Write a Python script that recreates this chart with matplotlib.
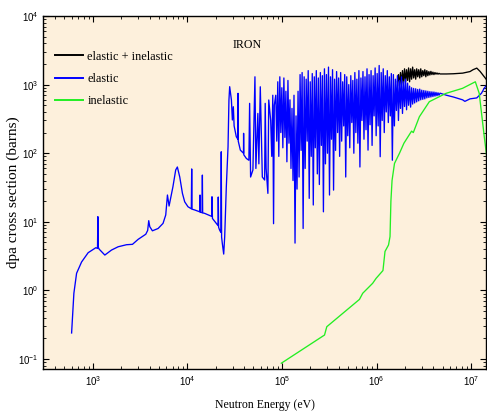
import numpy as np
import matplotlib
matplotlib.use('Agg')
import matplotlib.pyplot as plt

plt.rcParams['font.family'] = 'Liberation Serif'
plt.rcParams['mathtext.default'] = 'regular'

# Elastic (blue) - low energy part [eV], [barns]
elastic_low_e = [596, 630, 673, 760, 892, 1076, 1120, 1130, 1138, 1166,
                 1339, 1575, 1850, 2270, 2624, 3010, 3630, 3800, 3900, 4000,
                 4265, 4900, 5525, 5900, 6150, 6400, 7030, 7520, 7830, 8300,
                 8860, 9360, 10140, 11000, 11100, 11200, 11940, 13500, 13600,
                 13700, 14300, 14400, 14500, 15200, 18100, 18200, 18400,
                 20200, 21100, 21200, 21400, 21900, 22600, 22800, 23000,
                 23400, 24200, 24800, 25800, 26900, 27500, 28000, 29200,
                 29900, 30600, 31200, 32900, 34200, 34300, 34500, 36300,
                 39200, 39300, 39500, 42000, 44700, 45500, 46600, 49300,
                 51800, 53000, 55600, 57000, 59000, 62000, 65600, 66500,
                 68000, 71000, 72500, 76000, 78000, 80000, 81500, 83000]
elastic_low_xs = [0.24, 0.91, 1.78, 2.6, 3.55, 4.2, 4.1, 11.9, 4.3, 4.0,
                  3.28, 3.88, 4.33, 4.64, 4.7, 5.55, 6.6, 7.5, 10.4, 8.5,
                  7.4, 8.0, 9.5, 12.6, 24.6, 17, 32.5, 57, 63, 45,
                  26, 19.6, 16.6, 15.5, 59, 15.3, 14.9, 14, 24.6,
                  13.8, 13.6, 48, 13.5, 13.3, 12, 23.2, 11.2,
                  9.5, 8.8, 23, 8.3, 7.6, 7, 105, 6,
                  4.86, 3.39, 6.1, 32.5, 124, 597, 933, 597,
                  305, 476, 250, 174, 160, 746, 150, 111,
                  100, 195, 95, 84, 79, 533, 45, 57,
                  1300, 60, 380, 70, 930, 45, 40.7, 533,
                  60, 26, 597, 300, 90, 700, 9.4, 500]

# Elastic - resolved resonance region (dense spikes)
elastic_res_e = [86000, 88150, 90350, 92610, 94930, 97300, 99730, 102200, 104800, 107400,
                 110100, 112800, 115700, 118600, 121500, 124600, 127700, 130900, 134100, 137500,
                 140900, 144400, 148000, 151800, 155500, 159400, 163400, 167500, 171700, 176000,
                 180400, 184900, 189500, 194300, 199100, 204100, 209200, 214500, 219800, 225300,
                 230900, 236700, 242600, 248700, 254900, 261300, 267800, 274500, 281400, 288400,
                 295600, 303000, 310600, 318300, 326300, 334400, 342800, 351400, 360200, 369200,
                 378400, 387800, 397500, 407500, 417700, 428100, 438800, 449800, 461000, 472600,
                 484400, 496500, 508900, 521600, 534700, 548000, 561700, 575800, 590200, 604900,
                 620000, 635500, 651400, 667700, 684400, 701500, 719100, 737000, 755500, 774400,
                 793700, 813500, 833900, 854700, 876100, 898000, 920400, 943500, 967100, 991200,
                 1016000, 1041000, 1067000, 1094000, 1121000, 1149000, 1178000, 1208000, 1238000, 1269000,
                 1301000, 1333000, 1366000, 1400000, 1435000, 1471000, 1508000, 1546000, 1585000, 1624000,
                 1665000, 1706000, 1749000, 1793000, 1838000, 1883000, 1930000, 1979000, 2028000, 2079000,
                 2131000, 2184000, 2239000, 2295000, 2352000, 2411000, 2471000, 2533000, 2597000, 2661000,
                 2728000, 2796000, 2866000, 2938000, 3011000, 3087000, 3164000, 3243000, 3324000, 3407000,
                 3492000, 3580000, 3669000, 3761000, 3855000, 3951000, 4050000, 4151000, 4255000, 4361000,
                 4470000, 4582000, 4697000]
elastic_res_xs = [700, 150, 1100, 90, 1300, 200, 900, 120, 1250, 170,
                  800, 75, 1150, 140, 600, 60, 450, 40, 700, 4.9,
                  350, 30, 800, 45, 1400, 110, 1500, 8, 1300, 60,
                  1200, 150, 1600, 22, 1100, 90, 1450, 17.6, 1300, 120,
                  1600, 50, 1250, 35, 1500, 130, 1350, 14, 1700, 70,
                  1400, 100, 1800, 24.6, 1300, 160, 1650, 29, 1200, 110,
                  1550, 200, 1250, 90, 1500, 150, 1100, 250, 1400, 45,
                  1300, 180, 1000, 120, 1350, 280, 1150, 100, 1500, 200,
                  1200, 140, 1600, 63, 1250, 300, 1550, 160, 1300, 220,
                  1700, 111, 1400, 260, 1600, 130, 1350, 350, 1750, 180,
                  1450, 250, 1900, 89, 1500, 300, 1700, 200, 1350, 400,
                  1600, 280, 1300, 350, 1450, 79, 1400, 250, 1200, 420,
                  1350, 300, 1150, 450, 1300, 380, 1100, 480, 1200, 430,
                  1050, 500, 950, 470, 900, 520, 880, 540, 870, 560,
                  850, 580, 860, 600, 830, 610, 820, 620, 810, 640,
                  800, 650, 790, 660, 785, 670, 780, 680, 770, 690,
                  760, 700, 750]

# Elastic - smooth high energy part
elastic_high_e = [5.5e6, 6.5e6, 8.15e6, 8.6e6, 9.75e6, 1.15e7, 1.29e7, 1.38e7, 1.48e7]
elastic_high_xs = [700, 660, 600, 570, 620, 640, 750, 890, 1000]

# Elastic + inelastic (black), visible only above ~1.6 MeV
total_res_xs = [1100, 1400, 950, 1500, 1000, 1600, 1050, 1700, 1100, 1650,
                1150, 1750, 1100, 1700, 1200, 1800, 1250, 1650, 1200, 1700,
                1300, 1650, 1250, 1700, 1300, 1600, 1350, 1650, 1300, 1600,
                1350, 1550, 1380, 1560, 1400, 1520, 1400, 1500, 1420, 1480,
                1420, 1460, 1430]
total_high_e = [5.5e6, 6.5e6, 8.15e6, 9.75e6, 1.05e7, 1.15e7, 1.25e7, 1.38e7, 1.48e7]
total_high_xs = [1430, 1440, 1470, 1550, 1650, 1740, 1550, 1300, 1150]

# Inelastic (green)
inelastic_e = [98500, 2.82e5, 2.98e5, 6.6e5, 7.15e5, 9.1e5, 9.9e5, 1.17e6, 1.23e6,
               1.34e6, 1.39e6, 1.42e6, 1.46e6, 1.55e6, 1.75e6, 1.95e6, 2.35e6,
               2.45e6, 2.84e6, 3.62e6, 5.43e6, 8.13e6, 1.11e7, 1.22e7, 1.38e7, 1.48e7]
inelastic_xs = [0.087, 0.224, 0.296, 0.74, 0.91, 1.27, 1.5, 1.95, 3.7,
                4.6, 6.1, 20, 40, 71, 100, 140, 210,
                200, 340, 564, 746, 883, 1100, 746, 174, 80]

elastic_e = elastic_low_e + elastic_res_e + elastic_high_e
elastic_xs = elastic_low_xs + elastic_res_xs + elastic_high_xs
total_e = elastic_res_e[120:] + total_high_e
total_xs = total_res_xs + total_high_xs

fig = plt.figure(figsize=(4.87, 4.18), dpi=100)
ax = fig.add_axes([0.0883, 0.1172, 0.9097, 0.8445])
ax.set_facecolor('#fdf0dc')

ax.plot(total_e, total_xs, color='black', lw=0.95, label='elastic + inelastic')
ax.plot(elastic_e, elastic_xs, color='#0000ff', lw=0.95, label='elastic')
ax.plot(inelastic_e, inelastic_xs, color='#22ee22', lw=0.95, label='inelastic')

ax.set_xscale('log')
ax.set_yscale('log')
ax.set_xlim(297, 1.44e7)
ax.set_ylim(0.0716, 1e4)

ax.tick_params(which='both', direction='in', top=True, right=True,
               labelfontfamily='Liberation Sans', labelsize=7)
ax.tick_params(which='major', length=4)
ax.tick_params(which='minor', length=2.5)
for s in ax.spines.values():
    s.set_linewidth(1.0)

ax.set_xlabel('Neutron Energy (eV)', fontsize=8.5, labelpad=8)
ax.set_ylabel('dpa cross section (barns)', fontsize=11, labelpad=-2)
ax.text(0.427, 0.918, 'IRON', transform=ax.transAxes, fontsize=8.6, va='center')
leg = ax.legend(loc='upper left', bbox_to_anchor=(0.027, 0.902), frameon=False,
                fontsize=8.8, handlelength=2.3, handletextpad=0.35,
                labelspacing=0.85, borderpad=0, borderaxespad=0)
for line in leg.get_lines():
    line.set_linewidth(1.4)

fig.savefig('out.png', dpi=100)
